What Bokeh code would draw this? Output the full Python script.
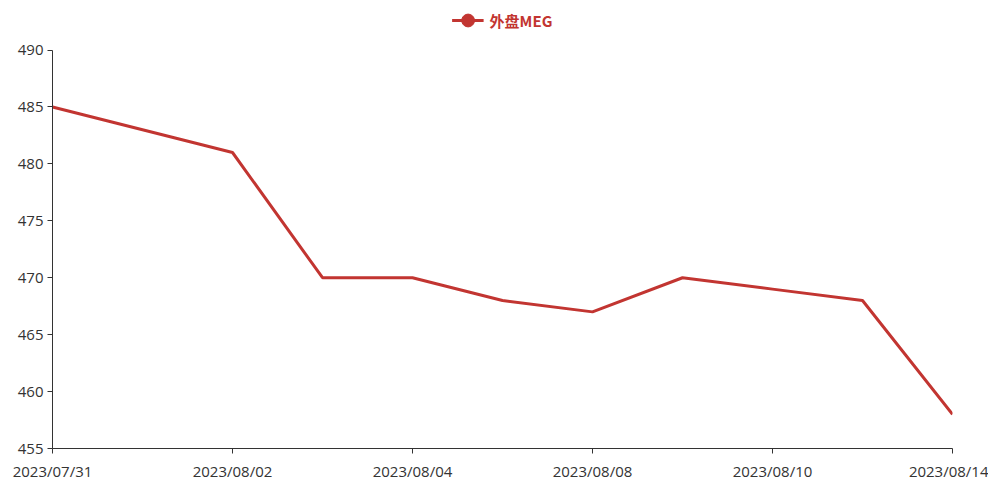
from bokeh.plotting import figure
from bokeh.models import Range1d, FixedTicker, Legend, LegendItem
from bokeh.embed import file_html
from bokeh.resources import INLINE

dates = ["2023/07/31", "2023/08/01", "2023/08/02", "2023/08/03", "2023/08/04",
         "2023/08/07", "2023/08/08", "2023/08/09", "2023/08/10", "2023/08/11",
         "2023/08/14"]
meg = [485, 483, 481, 470, 470, 468, 467, 470, 469, 468, 458]
series_name = "外盘MEG"
y_ticks = [455, 460, 465, 470, 475, 480, 485, 490]

idx = list(range(len(dates)))
color = "#c23531"
axis_color = "#333333"
font = "Open Sans"

# extra headroom above 490 leaves space for the legend inside the frame
p = figure(width=988, height=483, output_backend="svg", toolbar_location=None,
           x_range=Range1d(0, len(dates) - 1), y_range=Range1d(455, 494.0),
           min_border_left=52, min_border_right=36, min_border_top=4,
           min_border_bottom=30)
p.outline_line_color = None
p.xgrid.visible = False
p.ygrid.visible = False

line = p.line(idx, meg, line_color=color, line_width=3)
pts = p.scatter(idx, meg, size=0, marker="circle", fill_color=color, line_color=color)

p.xaxis.ticker = FixedTicker(ticks=idx[::2])
p.xaxis.major_label_overrides = {i: d for i, d in enumerate(dates)}
p.yaxis.ticker = FixedTicker(ticks=y_ticks)
p.yaxis.bounds = (455, 490)
for ax in (p.xaxis[0], p.yaxis[0]):
    ax.axis_line_color = axis_color
    ax.major_tick_line_color = axis_color
    ax.minor_tick_line_color = None
    ax.major_tick_out = 5
    ax.major_tick_in = 0
    ax.major_label_text_color = axis_color
    ax.major_label_text_font = font
    ax.major_label_text_font_size = "15px"
p.xaxis.major_label_standoff = 7
p.yaxis.major_label_standoff = 4

legend = Legend(items=[LegendItem(label=series_name, renderers=[line, pts])],
                location="top_center", orientation="horizontal",
                glyph_width=32, glyph_height=32, label_text_font="Noto Sans CJK SC",
                label_text_font_style="bold", label_text_color=color,
                label_text_font_size="15px", background_fill_alpha=0,
                border_line_color=None, padding=0, margin=0, label_standoff=6)
p.add_layout(legend, "center")

open("out.html", "w").write(file_html(p, INLINE))
